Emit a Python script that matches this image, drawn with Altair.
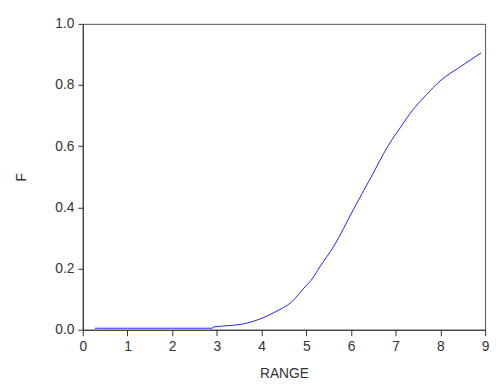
import altair as alt
import pandas as pd

range_vals = [0.27, 1.0, 2.0, 2.9, 2.92, 3.23, 3.55, 4.03, 4.3, 4.68, 4.97, 5.11, 5.3, 5.62, 6.05, 6.45, 6.83, 7.1, 7.37, 7.7, 7.99, 8.45, 8.91]
f_vals = [0.005, 0.005, 0.005, 0.005, 0.009, 0.013, 0.018, 0.039, 0.058, 0.092, 0.14, 0.162, 0.205, 0.274, 0.392, 0.499, 0.601, 0.66, 0.716, 0.77, 0.813, 0.86, 0.905]

df = pd.DataFrame({"RANGE": range_vals, "F": f_vals})

FONT = "Liberation Sans"

chart = alt.Chart(df).mark_line(color="#2020ff", strokeWidth=1, interpolate="monotone").encode(
    x=alt.X("RANGE:Q", title="RANGE",
            scale=alt.Scale(domain=[0, 9], nice=False, zero=False),
            axis=alt.Axis(values=list(range(10)), format="d", grid=False,
                          tickSize=6, labelPadding=4, titlePadding=14,
                          labelFlush=False, labelOverlap=False)),
    y=alt.Y("F:Q", title="F",
            scale=alt.Scale(domain=[0, 1], nice=False),
            axis=alt.Axis(values=[0, 0.2, 0.4, 0.6, 0.8, 1.0], format=".1f", grid=False,
                          tickSize=5, labelPadding=4, titlePadding=27,
                          labelFlush=False, labelOverlap=False)),
).properties(
    width=409, height=311,
    autosize=alt.AutoSizeParams(type="none"),
    padding={"left": 76, "top": 13, "right": 5, "bottom": 50},
    background="white",
).configure_view(
    stroke="#505050", strokeWidth=1, fill="white"
).configure_axis(
    domainColor="#303030", tickColor="#303030",
    labelFont=FONT, titleFont=FONT,
    labelFontSize=14, titleFontSize=14,
    labelColor="#333333", titleColor="#333333",
    titleFontWeight="normal",
)

chart.save("out.html", embed_options={"renderer": "svg", "actions": False})
